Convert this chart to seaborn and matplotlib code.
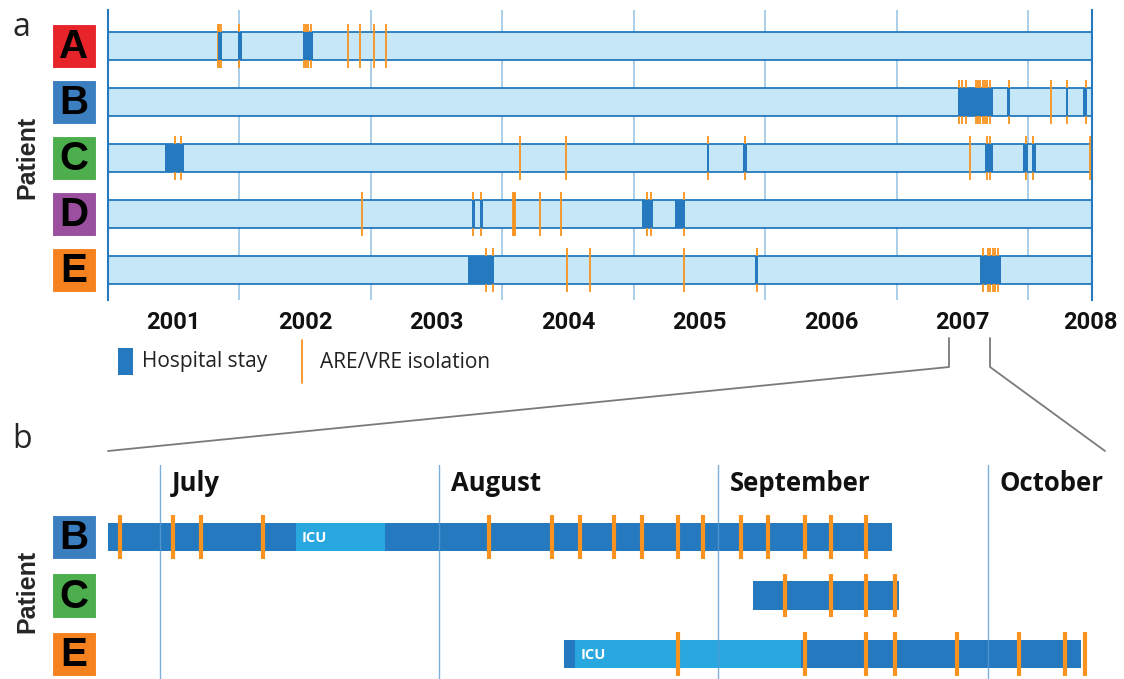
import numpy as np
import pandas as pd
import matplotlib
matplotlib.use("Agg")
import matplotlib.pyplot as plt
from matplotlib.patches import Rectangle
from matplotlib.lines import Line2D
from matplotlib.transforms import blended_transform_factory
import seaborn as sns

# ---------------- data: panel a (decimal years) ----------------
patients_a = ["A", "B", "C", "D", "E"]
patient_colors = {"A": "#e8242b", "B": "#3b7fc1", "C": "#4cae4c",
                  "D": "#9a509f", "E": "#f5821f"}
timeline_end = 2008.483
year_labels = ["2001", "2002", "2003", "2004", "2005", "2006", "2007", "2008"]
year_label_pos = [2001.5, 2002.5, 2003.5, 2004.5, 2005.5, 2006.5, 2007.5, 2008.47]
year_grid = [2002, 2003, 2004, 2005, 2006, 2007, 2008]

stays_A = [(2001.834, 2001.867), (2001.989, 2002.017), (2002.483, 2002.559)]
iso_A = [2001.834, 2001.846, 2001.859, 2001.998, 2002.490, 2002.506, 2002.523,
         2002.544, 2002.823, 2002.914, 2003.023, 2003.112]

stays_B = [(2007.462, 2007.728), (2007.839, 2007.861), (2008.283, 2008.300),
           (2008.412, 2008.445)]
iso_B = [2007.471, 2007.491, 2007.522, 2007.601, 2007.619, 2007.631, 2007.652,
         2007.669, 2007.687, 2007.707, 2007.849, 2008.169, 2008.290, 2008.437]

stays_C = [(2001.433, 2001.578), (2005.555, 2005.570), (2005.829, 2005.857),
           (2007.669, 2007.728), (2007.961, 2007.998), (2008.024, 2008.057)]
iso_C = [2001.510, 2001.553, 2004.131, 2004.483, 2005.565, 2005.844, 2007.552,
         2007.681, 2007.707, 2007.978, 2008.036, 2008.468]

stays_D = [(2003.768, 2003.791), (2003.829, 2003.852), (2005.063, 2005.142),
           (2005.312, 2005.390)]
iso_D = [2002.932, 2003.778, 2003.839, 2004.077, 2004.087, 2004.097, 2004.287,
         2004.445, 2005.099, 2005.129, 2005.380]

stays_E = [(2003.740, 2003.937), (2005.922, 2005.945), (2007.629, 2007.789)]
iso_E = [2003.876, 2003.930, 2004.490, 2004.665, 2005.377, 2005.932, 2007.652,
         2007.690, 2007.707, 2007.728, 2007.745, 2007.770]

stays_a = {"A": stays_A, "B": stays_B, "C": stays_C, "D": stays_D, "E": stays_E}
iso_a = {"A": iso_A, "B": iso_B, "C": iso_C, "D": iso_D, "E": iso_E}

# ---------------- data: panel b (days since 1 July 2007) ----------------
months_b = ["July", "August", "September", "October"]
month_start_day = [0, 31, 62, 92]
patients_b = ["B", "C", "E"]

b_stay_B = [(-10.0, 81.3)]
b_icu_B = [(15.1, 25.0)]
b_iso_B = [-4.4, 1.4, 4.6, 11.4, 36.5, 43.6, 46.7, 50.4, 53.5, 57.6, 60.3,
           64.6, 67.6, 71.7, 74.5, 78.4]
b_stay_C = [(65.9, 82.1)]
b_icu_C = []
b_iso_C = [69.4, 74.5, 78.4, 81.7]
b_stay_E = [(44.9, 102.3)]
b_icu_E = [(46.1, 71.2)]
b_iso_E = [57.6, 71.7, 78.4, 81.7, 88.5, 95.4, 100.6, 102.8]

stays_b = {"B": b_stay_B, "C": b_stay_C, "E": b_stay_E}
icu_b = {"B": b_icu_B, "C": b_icu_C, "E": b_icu_E}
iso_b = {"B": b_iso_B, "C": b_iso_C, "E": b_iso_E}

# ---------------- style ----------------
LIGHT = "#c5e7f7"
DARK = "#2479bf"
ICU = "#29a8df"
ORANGE = "#f7931e"
GRID = "#9cc6e6"

sns.set_theme(style="white")
plt.rcParams["font.family"] = ["Open Sans", "DejaVu Sans"]

W, H = 1124, 679
fig = plt.figure(figsize=(W / 100, H / 100), dpi=100)


def fx(px):
    return px / W


def fy(py):
    return 1 - py / H


# ---------------- panel a ----------------
ax_a = fig.add_axes([fx(108), fy(300), fx(1092) - fx(108), (300 - 10) / H])
df_a = pd.DataFrame({"patient": patients_a, "end": [timeline_end] * len(patients_a)})
sns.barplot(data=df_a, y="patient", x="end", orient="h", color=LIGHT,
            saturation=1, edgecolor=DARK, linewidth=1.3, width=0.5, ax=ax_a,
            zorder=1)
ax_a.set_xlim(2001.0, timeline_end)
ax_a.set_ylim(4.5357, -0.6429)
ax_a.set_ylabel("")
ax_a.set_xlabel("")
ax_a.set_yticks([])
ax_a.set_xticks(year_label_pos)
ax_a.set_xticklabels(year_labels, fontsize=17, fontweight="bold",
                     family=["Roboto", "DejaVu Sans"], color="#111111")
ax_a.tick_params(axis="x", which="both", length=0, pad=8)
ax_a.grid(False)
for xg in year_grid:
    ax_a.axvline(xg, color=GRID, lw=1.2, zorder=0)
ax_a.set_axisbelow(True)
for s in ["top", "bottom"]:
    ax_a.spines[s].set_visible(False)
for s in ["left", "right"]:
    ax_a.spines[s].set_color(DARK)
    ax_a.spines[s].set_linewidth(1.5)
    ax_a.spines[s].set_zorder(5)

for i, p in enumerate(patients_a):
    ax_a.vlines(iso_a[p], i - 0.40, i + 0.40, color=ORANGE, lw=1.3, zorder=2)
    for (s, e) in stays_a[p]:
        ax_a.barh(i, e - s, left=s, height=0.5, color=DARK, lw=0, zorder=3)

tr_a = blended_transform_factory(ax_a.transAxes, ax_a.transData)
for i, p in enumerate(patients_a):
    ax_a.add_patch(Rectangle((-0.0569, i - 0.40), 0.0447, 0.80,
                             transform=tr_a, clip_on=False,
                             facecolor=patient_colors[p], edgecolor="white",
                             lw=0.8, zorder=4))
    ax_a.text(-0.0345, i + 0.02, p, transform=tr_a, ha="center", va="center",
              fontsize=29, fontweight="bold", color="black", zorder=6,
              family=["Liberation Sans", "DejaVu Sans"], clip_on=False)

# ---------------- panel b ----------------
ax_b = fig.add_axes([fx(108), 0, fx(1105) - fx(108), (679 - 465) / H])
ax_b.set_xlim(-5.778, 105.0)
ax_b.set_ylim(2.4274, -1.2308)
ax_b.axis("off")
for d in month_start_day:
    ax_b.axvline(d, color="#5b9bd0", lw=1.0, alpha=0.8, zorder=6)
for m, d in zip(months_b, month_start_day):
    ax_b.text(d + 1.33, -0.923, m, ha="left", va="center", fontsize=18.5,
              fontweight="bold", color="#111111")

for i, p in enumerate(patients_b):
    for (s, e) in stays_b[p]:
        ax_b.barh(i, e - s, left=s, height=0.48, color=DARK, lw=0, zorder=2)
    for (s, e) in icu_b[p]:
        ax_b.barh(i, e - s, left=s, height=0.48, color=ICU, lw=0, zorder=3)
        ax_b.text(s + 0.6, i + 0.02, "ICU", ha="left", va="center",
                  fontsize=10.5, fontweight="bold", color="white", zorder=4)
    ax_b.vlines(iso_b[p], i - 0.376, i + 0.376, color=ORANGE, lw=3.0, zorder=5)

tr_b = blended_transform_factory(ax_b.transAxes, ax_b.transData)
for i, p in enumerate(patients_b):
    ax_b.add_patch(Rectangle((-0.0562, i - 0.38), 0.0441, 0.76,
                             transform=tr_b, clip_on=False,
                             facecolor=patient_colors[p], edgecolor="white",
                             lw=0.8, zorder=4))
    ax_b.text(-0.0342, i + 0.02, p, transform=tr_b, ha="center", va="center",
              fontsize=29, fontweight="bold", color="black", zorder=6,
              family=["Liberation Sans", "DejaVu Sans"], clip_on=False)

# ---------------- labels, legend, connectors ----------------
fig.text(fx(21), fy(28), "a", fontsize=23, ha="center", va="center")
fig.text(fx(22), fy(440), "b", fontsize=23, ha="center", va="center")
fig.text(fx(27), fy(157), "Patient", rotation=90, fontsize=18, fontweight="bold",
         ha="center", va="center", family=["Liberation Sans", "DejaVu Sans"])
fig.text(fx(27), fy(591), "Patient", rotation=90, fontsize=18, fontweight="bold",
         ha="center", va="center", family=["Liberation Sans", "DejaVu Sans"])

fig.add_artist(Rectangle((fx(118), fy(375)), fx(15), (375 - 348) / H,
                         transform=fig.transFigure, facecolor=DARK, lw=0))
fig.text(fx(142), fy(362), "Hospital stay", fontsize=15, ha="left",
         va="center", color="#222222")
fig.add_artist(Line2D([fx(302), fx(302)], [fy(340), fy(383)],
                      transform=fig.transFigure, color=ORANGE, lw=1.3))
fig.text(fx(320), fy(362), "ARE/VRE isolation", fontsize=15, ha="left",
         va="center", color="#222222")

for xs, ys in [([949, 949, 108], [338, 367, 451]),
               ([990, 990, 1105], [338, 367, 451])]:
    fig.add_artist(Line2D([fx(v) for v in xs], [fy(v) for v in ys],
                          transform=fig.transFigure, color="#7a7a7a", lw=1.3))

fig.savefig("out.png", dpi=100)
